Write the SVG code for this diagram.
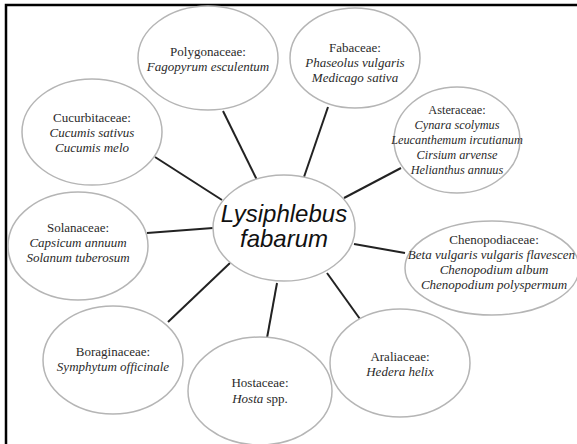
<svg xmlns="http://www.w3.org/2000/svg" width="577" height="444" viewBox="0 0 577 444">
<style>
.bg{fill:#fff}
.frame{fill:none;stroke:#000;stroke-width:2.5}
.node ellipse{fill:#fff;stroke:#b5b5b5;stroke-width:1.5}
.conn line{stroke:#222;stroke-width:2}
.t{font-family:"Liberation Serif","Times New Roman",serif;font-size:13px;fill:#2a2a2a;text-anchor:middle}
.i{font-style:italic}
.s{font-size:12.3px}
.main{font-family:"Liberation Sans",Arial,sans-serif;font-size:24px;font-style:italic;fill:#111;text-anchor:middle}
</style>
<rect class="bg" x="0" y="0" width="577" height="444"/>
<path class="frame" d="M6,444 V5 H577"/>
<g id="connectors" class="conn">
<line x1="223" y1="111" x2="257" y2="180"/>
<line x1="155" y1="157" x2="222" y2="200"/>
<line x1="328" y1="107" x2="304" y2="177"/>
<line x1="401" y1="168" x2="344" y2="198"/>
<line x1="147" y1="233" x2="213" y2="228"/>
<line x1="168" y1="322" x2="230" y2="263"/>
<line x1="267" y1="338" x2="277" y2="283"/>
<line x1="354" y1="244" x2="405" y2="253"/>
<line x1="327" y1="273" x2="360" y2="319"/>
</g>
<g id="center" class="node">
<ellipse cx="284" cy="228" rx="71" ry="53"/>
<text class="main" x="284" y="222">Lysiphlebus</text>
<text class="main" x="284" y="247">fabarum</text>
</g>
<g id="polygonaceae" class="node">
<ellipse cx="208" cy="58" rx="70" ry="52"/>
<text class="t" x="208" y="56">Polygonaceae:</text>
<text class="t i" x="208" y="71">Fagopyrum esculentum</text>
</g>
<g id="fabaceae" class="node">
<ellipse cx="355" cy="58" rx="65" ry="50"/>
<text class="t" x="355" y="52">Fabaceae:</text>
<text class="t i" x="355" y="67">Phaseolus vulgaris</text>
<text class="t i" x="355" y="82">Medicago sativa</text>
</g>
<g id="cucurbitaceae" class="node">
<ellipse cx="92" cy="132" rx="70" ry="53"/>
<text class="t" x="92" y="122">Cucurbitaceae:</text>
<text class="t i" x="92" y="137">Cucumis sativus</text>
<text class="t i" x="92" y="152">Cucumis melo</text>
</g>
<g id="asteraceae" class="node">
<ellipse cx="457" cy="140" rx="63" ry="53"/>
<text class="t s" x="457" y="114">Asteraceae:</text>
<text class="t s i" x="457" y="129">Cynara scolymus</text>
<text class="t s i" x="457" y="144">Leucanthemum ircutianum</text>
<text class="t s i" x="457" y="159">Cirsium arvense</text>
<text class="t s i" x="457" y="174">Helianthus annuus</text>
</g>
<g id="solanaceae" class="node">
<ellipse cx="78" cy="246" rx="70" ry="54"/>
<text class="t" x="78" y="232">Solanaceae:</text>
<text class="t i" x="78" y="247">Capsicum annuum</text>
<text class="t i" x="78" y="262">Solanum tuberosum</text>
</g>
<g id="chenopodiaceae" class="node">
<ellipse cx="492" cy="268" rx="87" ry="47"/>
<text class="t" x="494" y="244">Chenopodiaceae:</text>
<text class="t i" x="575" y="259" style="text-anchor:end">Beta vulgaris vulgaris flavescen</text>
<text class="t i" x="494" y="274">Chenopodium album</text>
<text class="t i" x="494" y="289">Chenopodium polyspermum</text>
</g>
<g id="boraginaceae" class="node">
<ellipse cx="113" cy="360" rx="70" ry="54"/>
<text class="t" x="113" y="356">Boraginaceae:</text>
<text class="t i" x="113" y="371">Symphytum officinale</text>
</g>
<g id="hostaceae" class="node">
<ellipse cx="260" cy="391" rx="72" ry="54"/>
<text class="t" x="260" y="387">Hostaceae:</text>
<text class="t" x="260" y="403"><tspan class="i">Hosta</tspan> spp.</text>
</g>
<g id="araliaceae" class="node">
<ellipse cx="400" cy="363" rx="70" ry="54"/>
<text class="t" x="400" y="361">Araliaceae:</text>
<text class="t i" x="400" y="376">Hedera helix</text>
</g>
</svg>
